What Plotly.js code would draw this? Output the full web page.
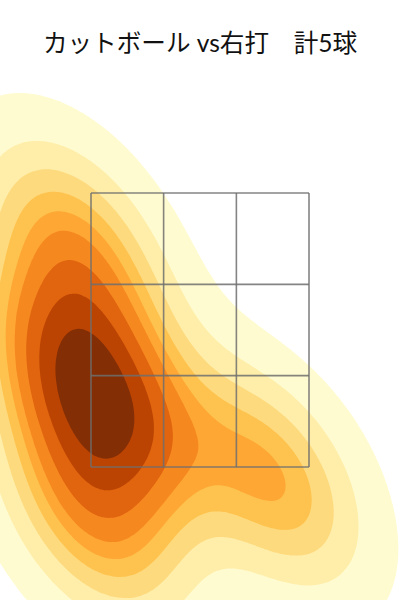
<!DOCTYPE html>
<html><head><meta charset="utf-8">
<script src="https://cdn.plot.ly/plotly-3.0.1.min.js"></script>
<style>html,body{margin:0;padding:0;background:#fff}#chart{width:400px;height:600px}</style>
</head><body><div id="chart"></div>
<script>
// pitch locations (feet): horizontal position and height at the plate
const pitchX = [-0.615, -0.928, -0.830, 0.551, -1.011];
const pitchZ = [1.928, 3.093, 1.136, 1.421, 2.181];
// strike zone 3x3 grid edges (feet)
const zoneX = [-0.83, -0.277, 0.277, 0.83];
const zoneZ = [1.5, 2.167, 2.833, 3.5];
const titleText = 'カットボール vs右打　計5球';
const nLevels = 10, thresh = 0.05, gridSize = 200, cut = 3;
const YlOrBr = ['#ffffe5','#fff7bc','#fee391','#fec44f','#fe9929','#ec7014','#cc4c02','#993404','#662506'];

function linspace(a,b,m){const r=[];for(let i=0;i<m;i++)r.push(a+(b-a)*i/(m-1));return r;}
function hex2rgb(h){return [parseInt(h.slice(1,3),16),parseInt(h.slice(3,5),16),parseInt(h.slice(5,7),16)];}
function cmap(t){
  t=Math.max(0,Math.min(1,t));
  const p=t*(YlOrBr.length-1), i=Math.min(Math.floor(p),YlOrBr.length-2), f=p-i;
  const a=hex2rgb(YlOrBr[i]), b=hex2rgb(YlOrBr[i+1]);
  return 'rgb('+a.map((v,k)=>Math.round(v+(b[k]-v)*f)).join(',')+')';
}

// Gaussian KDE (Scott's rule, full covariance)
const n = pitchX.length;
const mx = pitchX.reduce((a,b)=>a+b,0)/n, mz = pitchZ.reduce((a,b)=>a+b,0)/n;
let sxx=0,szz=0,sxz=0;
for(let i=0;i<n;i++){const dx=pitchX[i]-mx,dz=pitchZ[i]-mz;sxx+=dx*dx;szz+=dz*dz;sxz+=dx*dz;}
const f2 = Math.pow(n,-1/3);
const kxx=sxx/(n-1)*f2, kzz=szz/(n-1)*f2, kxz=sxz/(n-1)*f2;
const det=kxx*kzz-kxz*kxz;
const ixx=kzz/det, izz=kxx/det, ixz=-kxz/det;
function dens(x,z){
  let s=0;
  for(let i=0;i<n;i++){const dx=x-pitchX[i],dz=z-pitchZ[i];
    s+=Math.exp(-0.5*(ixx*dx*dx+2*ixz*dx*dz+izz*dz*dz));}
  return s/(2*Math.PI*Math.sqrt(det)*n);
}
const gx=linspace(Math.min(...pitchX)-cut*Math.sqrt(kxx), Math.max(...pitchX)+cut*Math.sqrt(kxx), gridSize);
const gz=linspace(Math.min(...pitchZ)-cut*Math.sqrt(kzz), Math.max(...pitchZ)+cut*Math.sqrt(kzz), gridSize);
const D=gz.map(z=>gx.map(x=>dens(x,z)));

// iso-proportion levels
const flat=[].concat(...D).sort((a,b)=>b-a);
const total=flat.reduce((a,b)=>a+b,0);
const cum=[];let acc=0;for(const v of flat){acc+=v;cum.push(acc/total);}
const qs=linspace(thresh,1,nLevels);
function levelFor(q){const t=1-q;let lo=0,hi=cum.length;while(lo<hi){const m=(lo+hi)>>1;if(cum[m]<t)lo=m+1;else hi=m;}return flat[Math.min(lo,flat.length-1)];}
const levels=qs.map(levelFor);
function toQ(v){
  if(v<=levels[0]) return qs[0]*v/levels[0];
  for(let k=1;k<levels.length;k++){ if(v<=levels[k]) return qs[k-1]+(qs[k]-qs[k-1])*(v-levels[k-1])/(levels[k]-levels[k-1]); }
  return 1;
}
const Q=D.map(r=>r.map(toQ));

// band colours (layer midpoints normalised by the level range)
const Lmin=levels[0], Lmax=levels[levels.length-1];
const bandCols=['rgba(255,255,255,0)'];
for(let k=1;k<levels.length;k++) bandCols.push(cmap(((levels[k-1]+levels[k])/2-Lmin)/(Lmax-Lmin)));
const nc=levels.length-1;
const cs=[];
for(let k=0;k<=nc;k++){cs.push([Math.max(0,(k-0.5)/nc),bandCols[k]]);cs.push([Math.min(1,(k+0.5)/nc),bandCols[k]]);}
const step=(1-thresh)/(nLevels-1);

const trace={type:'contour',x:gx,y:gz,z:Q,colorscale:cs,showscale:false,hoverinfo:'skip',
  autocontour:false,contours:{start:thresh,end:thresh+(nc-1)*step,size:step,coloring:'fill',showlines:false},
  line:{width:0,smoothing:0}};

const shapes=[];
const gridStyle={color:'rgba(110,110,110,0.85)',width:1.6};
zoneX.forEach(x=>shapes.push({type:'line',xref:'x',yref:'y',x0:x,x1:x,y0:zoneZ[0],y1:zoneZ[zoneZ.length-1],line:gridStyle,layer:'above'}));
zoneZ.forEach(z=>shapes.push({type:'line',xref:'x',yref:'y',x0:zoneX[0],x1:zoneX[zoneX.length-1],y0:z,y1:z,line:gridStyle,layer:'above'}));

const layout={width:400,height:600,margin:{l:0,r:0,t:80,b:0,pad:0},paper_bgcolor:'#fff',plot_bgcolor:'#fff',
  title:{text:titleText,x:0.5,xanchor:'center',y:1-43/600,yref:'container',yanchor:'middle',
    font:{family:"Lato, 'Noto Sans CJK JP', sans-serif",size:24.6,color:'#111'}},
  xaxis:{range:[-1.523,1.523],visible:false,fixedrange:true},
  yaxis:{range:[0.529,4.325],visible:false,fixedrange:true},
  shapes:shapes,showlegend:false};
Plotly.newPlot('chart',[trace],layout,{staticPlot:true});
</script></body></html>
